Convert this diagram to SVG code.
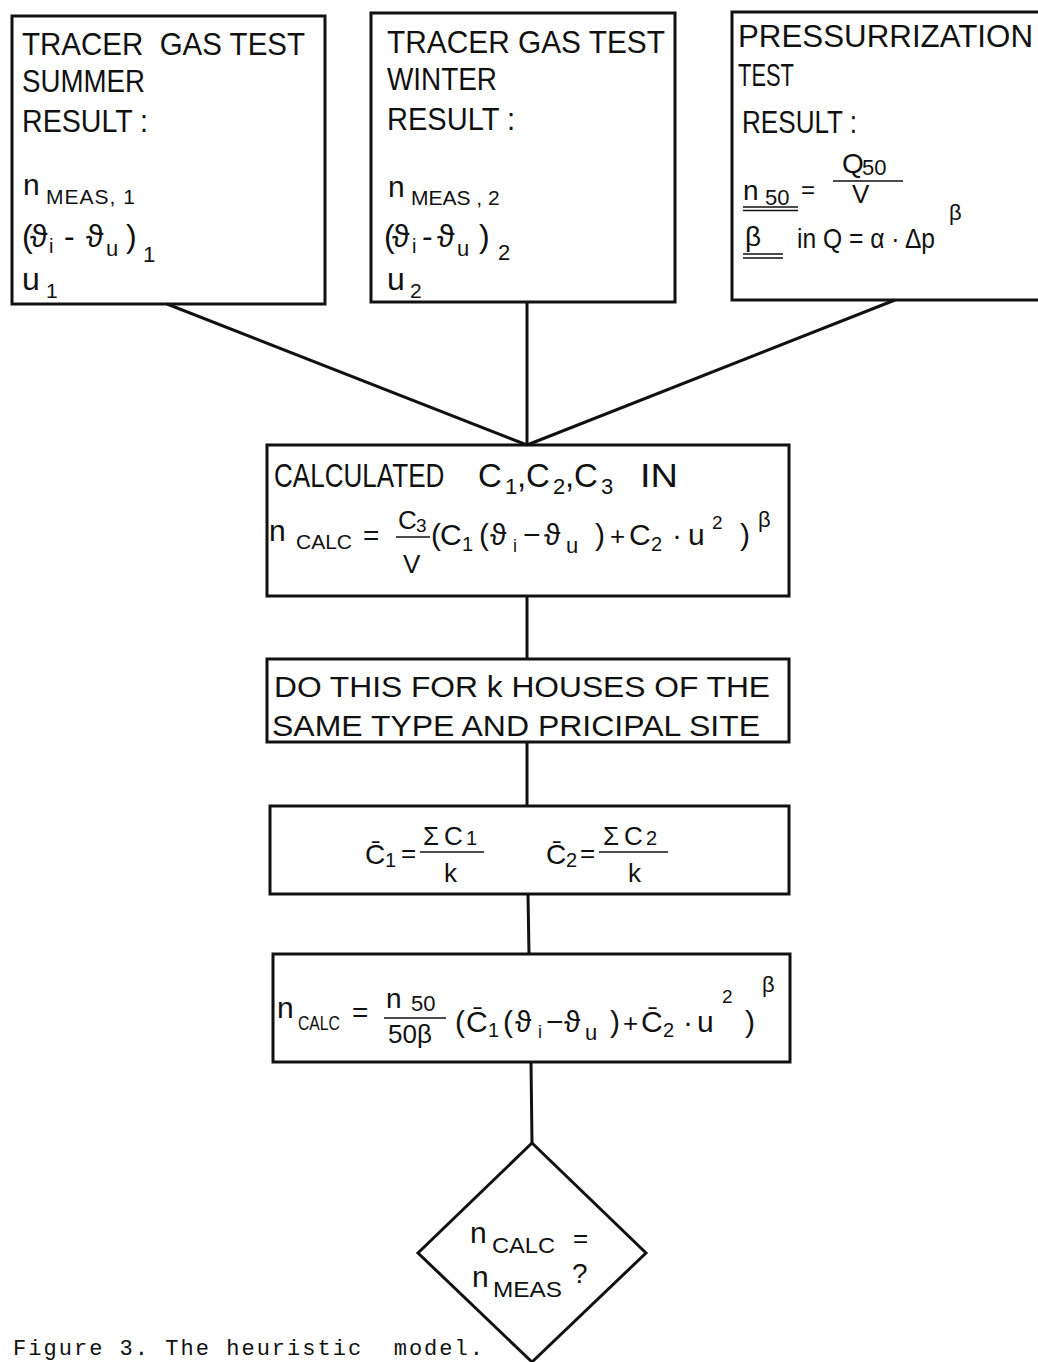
<svg xmlns="http://www.w3.org/2000/svg" width="1038" height="1362" viewBox="0 0 1038 1362">
<style>
.b{fill:none;stroke:#111;stroke-width:3}
.l{stroke:#111;stroke-width:3;fill:none}
.u{stroke:#111;stroke-width:1.6}
text{font-family:"Liberation Sans","DejaVu Sans",sans-serif;fill:#111}
.h{font-size:32px}
.cap{font-family:"Liberation Mono","DejaVu Sans Mono",monospace;font-size:22px}
</style>
<rect width="1038" height="1362" fill="#fff"/>
<g id="connectors">
<line class="l" x1="167" y1="304" x2="527" y2="445"/>
<line class="l" x1="527" y1="302" x2="527" y2="445"/>
<line class="l" x1="895" y1="300" x2="527" y2="445"/>
<line class="l" x1="527" y1="596" x2="527" y2="659"/>
<line class="l" x1="527" y1="742" x2="527" y2="806"/>
<line class="l" x1="528" y1="894" x2="529" y2="954"/>
<line class="l" x1="531" y1="1062" x2="532" y2="1143"/>
</g>
<g id="box-summer">
<rect class="b" x="12" y="16" width="313" height="288"/>
<text class="h" x="22" y="55" textLength="283" lengthAdjust="spacingAndGlyphs" xml:space="preserve">TRACER  GAS TEST</text>
<text class="h" x="22" y="92" textLength="123" lengthAdjust="spacingAndGlyphs">SUMMER</text>
<text class="h" x="22" y="132" textLength="126" lengthAdjust="spacingAndGlyphs">RESULT :</text>
<text font-size="30"><tspan x="23" y="195">n</tspan><tspan x="46" y="204" font-size="21" letter-spacing="1">MEAS, 1</tspan></text>
<text font-size="32" y="247"><tspan x="22">(</tspan><tspan x="30">ϑ</tspan><tspan x="49" y="253" font-size="20">i</tspan><tspan x="64" y="247">-</tspan><tspan x="86">ϑ</tspan><tspan x="106" y="256" font-size="22">u</tspan><tspan x="126" y="247">)</tspan><tspan x="143" y="262" font-size="22">1</tspan></text>
<text font-size="32"><tspan x="22" y="290">u</tspan><tspan x="46" y="298" font-size="21">1</tspan></text>
</g>
<g id="box-winter">
<rect class="b" x="371" y="13" width="304" height="289"/>
<text class="h" x="387" y="53" textLength="278" lengthAdjust="spacingAndGlyphs">TRACER GAS TEST</text>
<text class="h" x="387" y="90" textLength="110" lengthAdjust="spacingAndGlyphs">WINTER</text>
<text class="h" x="387" y="130" textLength="128" lengthAdjust="spacingAndGlyphs">RESULT :</text>
<text font-size="30"><tspan x="388" y="197">n</tspan><tspan x="411" y="205" font-size="21">MEAS , 2</tspan></text>
<text font-size="32" y="247"><tspan x="384">(</tspan><tspan x="392">ϑ</tspan><tspan x="412" y="253" font-size="20">i</tspan><tspan x="422" y="247">-</tspan><tspan x="437">ϑ</tspan><tspan x="457" y="256" font-size="22">u</tspan><tspan x="479" y="247">)</tspan><tspan x="498" y="260" font-size="22">2</tspan></text>
<text font-size="32"><tspan x="387" y="290">u</tspan><tspan x="410" y="298" font-size="21">2</tspan></text>
</g>
<g id="box-pressurization">
<rect class="b" x="732" y="12" width="312" height="288"/>
<text class="h" x="738" y="47" textLength="295" lengthAdjust="spacingAndGlyphs">PRESSURRIZATION</text>
<text class="h" x="738" y="86" textLength="56" lengthAdjust="spacingAndGlyphs">TEST</text>
<text class="h" x="742" y="133" textLength="115" lengthAdjust="spacingAndGlyphs">RESULT :</text>
<text font-size="28"><tspan x="743" y="200">n</tspan><tspan x="765" y="205" font-size="22">50</tspan><tspan x="801" y="198" font-size="24">=</tspan></text>
<text font-size="28"><tspan x="842" y="173">Q</tspan><tspan x="862" y="175" font-size="22">50</tspan></text>
<text font-size="26" x="852" y="203">V</text>
<line class="u" x1="833" y1="181" x2="903" y2="181"/>
<line class="u" x1="743" y1="207" x2="798" y2="207"/>
<line class="u" x1="743" y1="210.5" x2="798" y2="210.5"/>
<text font-size="28" x="745" y="246">β</text>
<text font-size="28" x="797" y="248" textLength="138" lengthAdjust="spacingAndGlyphs">in Q = α · Δp</text>
<text font-size="22" x="949" y="220">β</text>
<line class="u" x1="743" y1="254" x2="783" y2="254"/>
<line class="u" x1="743" y1="258" x2="783" y2="258"/>
</g>
<g id="box-calculated">
<rect class="b" x="267" y="445" width="522" height="151"/>
<text font-size="33" x="0" y="0" transform="matrix(0.79 0 0 1 274 487)">CALCULATED</text>
<text font-size="33" y="487"><tspan x="478">C</tspan><tspan x="505" y="494" font-size="22">1</tspan><tspan x="517" y="487">,</tspan><tspan x="526">C</tspan><tspan x="553" y="494" font-size="22">2</tspan><tspan x="565" y="487">,</tspan><tspan x="574">C</tspan><tspan x="601" y="494" font-size="22">3</tspan></text>
<text font-size="33" x="640" y="487" textLength="38" lengthAdjust="spacingAndGlyphs">IN</text>
<text font-size="30"><tspan x="269" y="541">n</tspan><tspan x="296" y="549" font-size="21" textLength="56" lengthAdjust="spacingAndGlyphs">CALC</tspan></text>
<text font-size="28" x="363" y="545">=</text>
<text font-size="26"><tspan x="398" y="529">C</tspan><tspan x="416" y="532" font-size="19">3</tspan></text>
<text font-size="26" x="403" y="573">V</text>
<line class="u" x1="396" y1="537" x2="430" y2="537"/>
<text font-size="30" y="545"><tspan x="431">(</tspan><tspan x="440">C</tspan><tspan x="462" y="551" font-size="20">1</tspan><tspan x="479" y="545">(</tspan><tspan x="490">ϑ</tspan><tspan x="513" y="552" font-size="18">i</tspan><tspan x="523" y="545">−</tspan><tspan x="544">ϑ</tspan><tspan x="566" y="553" font-size="22">u</tspan><tspan x="595" y="545">)</tspan><tspan x="610" font-size="26">+</tspan><tspan x="629">C</tspan><tspan x="651" y="551" font-size="20">2</tspan><tspan x="672" y="545">·</tspan><tspan x="688">u</tspan><tspan x="712" y="529" font-size="19">2</tspan><tspan x="740" y="545">)</tspan><tspan x="758" y="527" font-size="22">β</tspan></text>
</g>
<g id="box-houses">
<rect class="b" x="267" y="659" width="522" height="83"/>
<text font-size="30" x="274" y="697" textLength="496" lengthAdjust="spacingAndGlyphs">DO THIS FOR k HOUSES OF THE</text>
<text font-size="30" x="272" y="736" textLength="488" lengthAdjust="spacingAndGlyphs">SAME TYPE AND PRICIPAL SITE</text>
</g>
<g id="box-mean">
<rect class="b" x="270" y="806" width="519" height="88"/>
<text font-size="28"><tspan x="365" y="864">C̄</tspan><tspan x="385" y="867" font-size="20">1</tspan><tspan x="401" y="862" font-size="26">=</tspan></text>
<text font-size="26"><tspan x="423" y="845">Σ</tspan><tspan x="444">C</tspan><tspan x="466" y="845" font-size="20">1</tspan></text>
<text font-size="26" x="444" y="882">k</text>
<line class="u" x1="420" y1="852" x2="484" y2="852"/>
<text font-size="28"><tspan x="546" y="864">C̄</tspan><tspan x="566" y="867" font-size="20">2</tspan><tspan x="580" y="862" font-size="26">=</tspan></text>
<text font-size="26"><tspan x="603" y="845">Σ</tspan><tspan x="624">C</tspan><tspan x="646" y="845" font-size="20">2</tspan></text>
<text font-size="26" x="628" y="882">k</text>
<line class="u" x1="599" y1="852" x2="668" y2="852"/>
</g>
<g id="box-ncalc">
<rect class="b" x="273" y="954" width="517" height="108"/>
<text font-size="30"><tspan x="277" y="1018">n</tspan><tspan x="298" y="1030" font-size="20" textLength="42" lengthAdjust="spacingAndGlyphs">CALC</tspan></text>
<text font-size="28" x="352" y="1022">=</text>
<text font-size="28"><tspan x="386" y="1008">n</tspan><tspan x="411" y="1011" font-size="22">50</tspan></text>
<text font-size="26" x="388" y="1043">50β</text>
<line class="u" x1="384" y1="1018" x2="446" y2="1018"/>
<text font-size="30" y="1032"><tspan x="455">(</tspan><tspan x="466">C̄</tspan><tspan x="488" y="1037" font-size="20">1</tspan><tspan x="503" y="1032">(</tspan><tspan x="515">ϑ</tspan><tspan x="538" y="1038" font-size="18">i</tspan><tspan x="546" y="1032">−</tspan><tspan x="564">ϑ</tspan><tspan x="585" y="1040" font-size="22">u</tspan><tspan x="610" y="1032">)</tspan><tspan x="623" font-size="26">+</tspan><tspan x="641">C̄</tspan><tspan x="663" y="1037" font-size="20">2</tspan><tspan x="683" y="1032">·</tspan><tspan x="697">u</tspan><tspan x="722" y="1003" font-size="19">2</tspan><tspan x="745" y="1032">)</tspan><tspan x="762" y="992" font-size="22">β</tspan></text>
</g>
<g id="decision">
<polygon class="b" points="532,1143 646,1253 532,1362 418,1253"/>
<text font-size="30"><tspan x="470" y="1243">n</tspan><tspan x="492" y="1253" font-size="22" textLength="63" lengthAdjust="spacingAndGlyphs">CALC</tspan><tspan x="573" y="1247" font-size="26">=</tspan></text>
<text font-size="30"><tspan x="472" y="1287">n</tspan><tspan x="493" y="1297" font-size="22" textLength="69" lengthAdjust="spacingAndGlyphs">MEAS</tspan><tspan x="572" y="1283" font-size="28">?</tspan></text>
</g>
<g id="caption">
<text class="cap" x="13" y="1355" textLength="470" lengthAdjust="spacing" xml:space="preserve">Figure 3. The heuristic  model.</text>
</g>
</svg>
